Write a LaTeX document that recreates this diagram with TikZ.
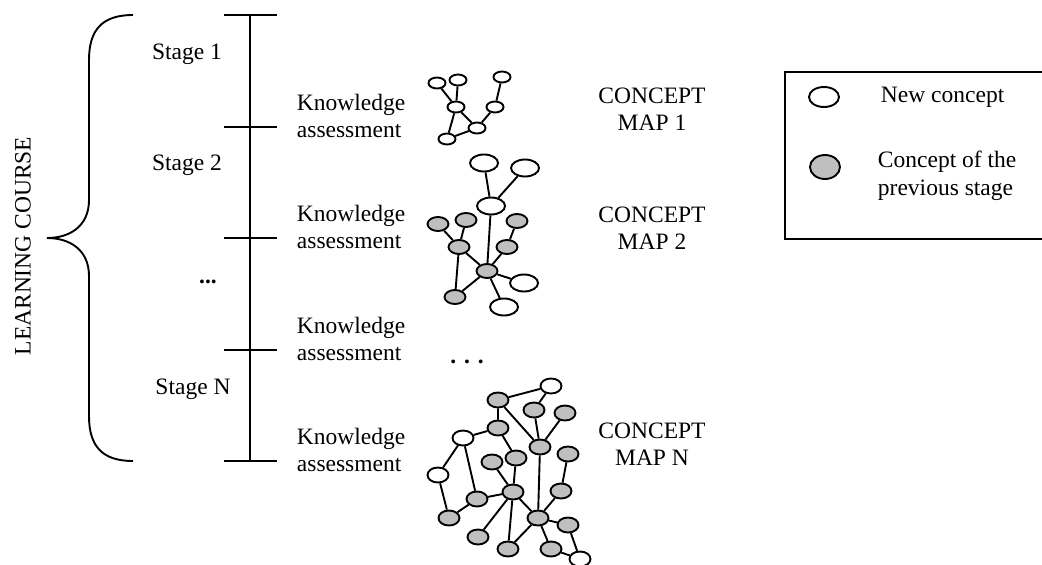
\documentclass[tikz,border=0pt]{standalone}
\usepackage{fontspec}
\setmainfont{Liberation Serif}
\usetikzlibrary{shapes.geometric}

\begin{document}
\begin{tikzpicture}[x=1pt, y=-1pt, line width=1.9pt,
    txt/.style={font=\fontsize{23.5}{27.5}\selectfont, inner sep=0pt},
    newc/.style={ellipse, draw, fill=white, inner sep=0pt},
    oldc/.style={ellipse, draw, fill=black!25, inner sep=0pt},
    szone/.style={minimum width=17pt, minimum height=11pt},
    sztwo/.style={minimum width=21pt, minimum height=14pt},
    szbig/.style={minimum width=28pt, minimum height=17pt},
    szn/.style={minimum width=21pt, minimum height=15pt}]
  \useasboundingbox (0,0) rectangle (1042,565);

  % Brace and course label.
  \draw (133,15) .. controls (102,15) and (89,30) .. (89,60) -- (89,200)
    .. controls (89,226) and (70,238) .. (47,238)
    .. controls (70,238) and (89,250) .. (89,276) -- (89,416)
    .. controls (89,446) and (102,461) .. (133,461);
  \node[txt, rotate=90] (course) at (23,246) {LEARNING COURSE};

  % Time line with stage ticks.
  \coordinate (t0) at (250,15);
  \coordinate (t4) at (250,461);
  \draw (t0) -- (t4);
  \foreach \y in {15,127,238,350,461}
    \draw (224,\y) -- (277,\y);
  \node[txt] (st1) at (187,54) {Stage 1};
  \node[txt] (st2) at (187,165) {Stage 2};
  \node[txt] (stdots) at (208,282) {\textbf{...}};
  \node[txt] (stN) at (193,389) {Stage N};

  % Assessments.
  \foreach \y/\n in {116/1,227/2,339/3,450/4}
    \node[txt, anchor=west, align=left] (ka\n) at (296,\y) {Knowledge\\assessment};

  % Map labels.
  \node[txt, align=center] (cm1) at (652,109) {CONCEPT\\MAP 1};
  \node[txt, align=center] (cm2) at (652,228) {CONCEPT\\MAP 2};
  \node[txt, align=center] (cmN) at (652,444) {CONCEPT\\MAP N};
  \node[txt] (mapdots) at (467,362) {\textbf{. . .}};

  % Concept map 1: all new.
  \node[newc,szone] (a1) at (437,83) {};
  \node[newc,szone] (a2) at (458,80) {};
  \node[newc,szone] (a3) at (502,77) {};
  \node[newc,szone] (a4) at (456,107) {};
  \node[newc,szone] (a5) at (495,107) {};
  \node[newc,szone] (a6) at (477,128) {};
  \node[newc,szone] (a7) at (447,139) {};
  \draw (a1) -- (a4) (a2) -- (a4) (a4) -- (a7) (a4) -- (a6)
        (a7) -- (a6) (a6) -- (a5) (a5) -- (a3);

  % Concept map 2.
  \node[newc,szbig] (b1) at (484,163) {};
  \node[newc,szbig] (b2) at (525,168) {};
  \node[newc,szbig] (b3) at (491,206) {};
  \node[oldc,sztwo] (b4) at (438,224) {};
  \node[oldc,sztwo] (b5) at (466,220) {};
  \node[oldc,sztwo] (b6) at (517,221) {};
  \node[oldc,sztwo] (b7) at (459,247) {};
  \node[oldc,sztwo] (b8) at (507,247) {};
  \node[oldc,sztwo] (b9) at (487,271) {};
  \node[newc,szbig] (b10) at (524,283) {};
  \node[oldc,sztwo] (b11) at (455,297) {};
  \node[newc,szbig] (b12) at (504,307) {};
  \draw (b1) -- (b3) (b2) -- (b3) (b3) -- (b9)
        (b4) -- (b7) (b5) -- (b7) (b7) -- (b11) (b7) -- (b9) (b11) -- (b9)
        (b6) -- (b8) (b8) -- (b9) (b9) -- (b10) (b9) -- (b12);

  % Concept map N.
  \node[newc,szn] (n1) at (551,386) {};
  \node[oldc,szn] (n2) at (498,400) {};
  \node[oldc,szn] (n3) at (534,410) {};
  \node[oldc,szn] (n4) at (565,413) {};
  \node[oldc,szn] (n5) at (498,428) {};
  \node[newc,szn] (n6) at (463,438) {};
  \node[oldc,szn] (n7) at (540,447) {};
  \node[oldc,szn] (n8) at (568,454) {};
  \node[oldc,szn] (n9) at (492,462) {};
  \node[oldc,szn] (n10) at (516,458) {};
  \node[newc,szn] (n11) at (438,475) {};
  \node[oldc,szn] (n12) at (513,492) {};
  \node[oldc,szn] (n13) at (561,491) {};
  \node[oldc,szn] (n14) at (477,499) {};
  \node[oldc,szn] (n15) at (538,518) {};
  \node[oldc,szn] (n16) at (449,518) {};
  \node[oldc,szn] (n17) at (568,525) {};
  \node[oldc,szn] (n18) at (478,537) {};
  \node[oldc,szn] (n19) at (508,549) {};
  \node[oldc,szn] (n20) at (551,549) {};
  \node[newc,szn] (n21) at (580,559) {};
  \draw (n2) -- (n1) (n3) -- (n1) (n2) -- (n5) (n2) -- (n7) (n3) -- (n7)
        (n4) -- (n7) (n5) -- (n6) (n5) -- (n10) (n6) -- (n11) (n6) -- (n14)
        (n11) -- (n16) (n16) -- (n14) (n14) -- (n12) (n9) -- (n12)
        (n10) -- (n12) (n12) -- (n19) (n12) -- (n18) (n12) -- (n15)
        (n7) -- (n15) (n13) -- (n15) (n8) -- (n13) (n15) -- (n17)
        (n15) -- (n19) (n15) -- (n20) (n20) -- (n21) (n17) -- (n21);

  % Legend, cut at the right edge.
  \draw (1042,72) -- (785,72) -- (785,239) -- (1042,239);
  \node[newc, minimum width=30pt, minimum height=20pt] (lnew) at (824,97) {};
  \node[oldc, minimum width=30pt, minimum height=24pt] (lold) at (825,167) {};
  \node[txt, anchor=west] (lnewtxt) at (880,97) {New concept};
  \node[txt, anchor=west, align=left] (loldtxt) at (877,176) {Concept of the\\previous stage};
\end{tikzpicture}
\end{document}
